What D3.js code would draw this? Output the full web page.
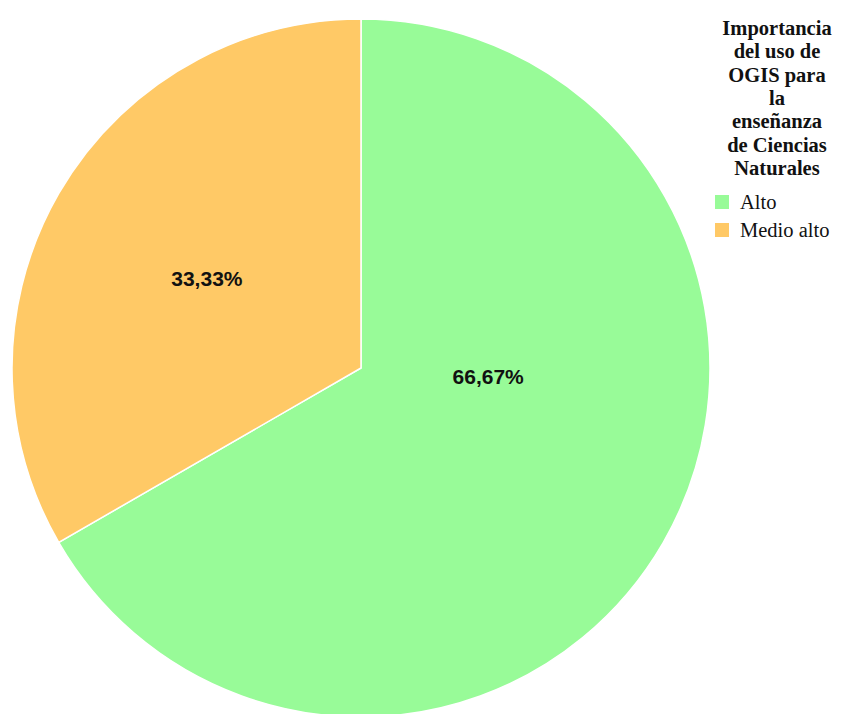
<!DOCTYPE html>
<html><head><meta charset="utf-8">
<script src="https://cdn.jsdelivr.net/npm/d3@7"></script>
<style>html,body{margin:0;padding:0;background:#fff;}</style>
</head><body>
<svg id="chart" width="844" height="714"></svg>
<script>
const categories = ["Alto", "Medio alto"];
const values = [66.67, 33.33];
const labels = ["66,67%", "33,33%"];
const colors = ["#98FB98", "#FFC966"];
const legendTitle = ["Importancia", "del uso de", "OGIS para", "la", "enseñanza", "de Ciencias", "Naturales"];

const svg = d3.select("#chart");
const cx = 361, cy = 368, R = 349;
const data = categories.map((c, i) => ({cat: c, value: values[i], label: labels[i], color: colors[i]}));
const pie = d3.pie().sort(null).value(d => d.value);
const arcs = pie(data);
const arc = d3.arc().innerRadius(0).outerRadius(R);
const g = svg.append("g").attr("transform", `translate(${cx},${cy})`);
g.selectAll("path").data(arcs).join("path")
  .attr("d", arc).attr("fill", d => d.data.color)
  .attr("stroke", "#fff").attr("stroke-width", 1.5);

g.selectAll("text.lbl").data(arcs).join("text").attr("class", "lbl")
  .attr("transform", d => {
    const span = d.endAngle - d.startAngle;
    let a, r;
    if (span > Math.PI) { a = d.startAngle + span * 0.39; r = R * 0.365; }
    else { a = (d.startAngle + d.endAngle) / 2; r = R * 0.51; }
    const [x, y] = d3.pointRadial(a, r);
    return `translate(${x},${y})`;
  })
  .attr("text-anchor", "middle").attr("dominant-baseline", "central")
  .style("font-family", "Liberation Sans, Arial, sans-serif")
  .style("font-weight", "bold").style("font-size", "21px").attr("fill", "#111")
  .text(d => d.data.label);

const lg = svg.append("g");
lg.selectAll("text.t").data(legendTitle).join("text").attr("class", "t")
  .attr("x", 777).attr("y", (d, i) => 28 + i * 23.3)
  .attr("text-anchor", "middle").attr("dominant-baseline", "central")
  .style("font-family", "Liberation Serif, Times New Roman, serif")
  .style("font-weight", "bold").style("font-size", "20.5px").attr("fill", "#111")
  .text(d => d);
const items = lg.selectAll("g.item").data(data).join("g").attr("class", "item")
  .attr("transform", (d, i) => `translate(715, ${202 + i * 28})`);
items.append("rect").attr("x", 0).attr("y", -7).attr("width", 14).attr("height", 14).attr("fill", d => d.color);
items.append("text").attr("x", 25).attr("y", 0).attr("dominant-baseline", "central")
  .style("font-family", "Liberation Serif, Times New Roman, serif")
  .style("font-size", "20.5px").attr("fill", "#111").text(d => d.cat);
</script>
</body></html>
